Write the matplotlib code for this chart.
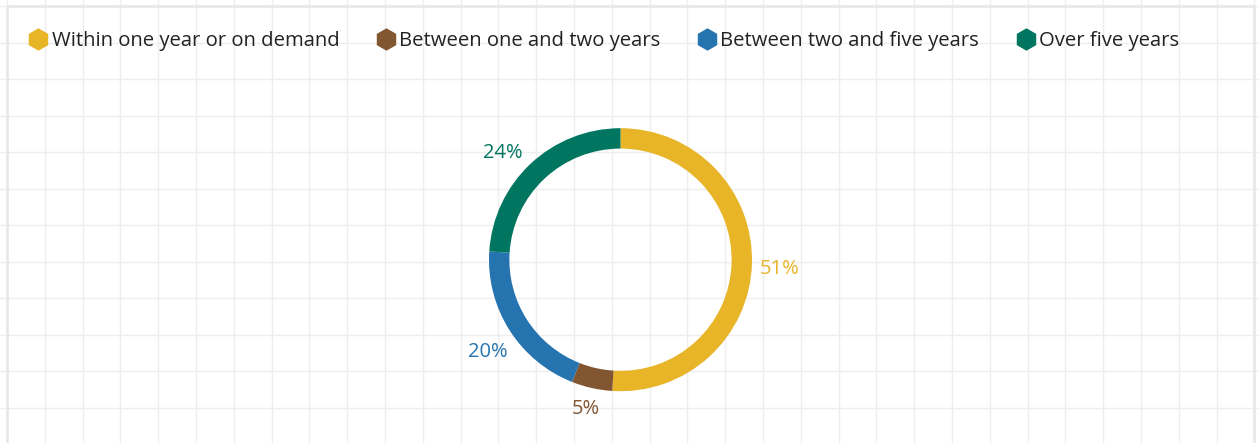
import numpy as np
import matplotlib.pyplot as plt
from matplotlib.lines import Line2D

categories = ["Within one year or on demand", "Between one and two years",
              "Between two and five years", "Over five years"]
shares = [51, 5, 20, 24]
pct_labels = ["51%", "5%", "20%", "24%"]
colors = ["#E8B428", "#835632", "#2574B0", "#007560"]

plt.rcParams['font.family'] = ['Open Sans', 'DejaVu Sans']

W, H = 1259, 443
fig = plt.figure(figsize=(W / 100, H / 100), dpi=100)

# background grid, pixel coordinates
bg = fig.add_axes([0, 0, 1, 1])
bg.set_xlim(0, W)
bg.set_ylim(H, 0)
gx = np.arange(7, 1256, 37.8)
gy = np.arange(6, 445, 36.5)
for x in gx:
    bg.axvline(x, color="#eeeeee", lw=1.0, zorder=0)
for y in gy:
    bg.axhline(y, color="#eeeeee", lw=1.0, zorder=0)
bg.plot([7, 7, 1254, 1254], [H, 6, 6, H], color="#e8e8e8", lw=2.0, zorder=0)
bg.axis("off")

# donut
cx, cy, r = 620.5, 259.7, 131.5
pax = fig.add_axes([(cx - r) / W, 1 - (cy + r) / H, 2 * r / W, 2 * r / H])
wedges, _ = pax.pie(shares, colors=colors, startangle=90, counterclock=False,
                    radius=1, wedgeprops=dict(width=0.155, linewidth=0))
pax.set_xlim(-1, 1)
pax.set_ylim(-1, 1)
pax.set_aspect("equal")
dist = [1.21, 1.15, 1.22, 1.22]
shift = [-1.0, -0.5, 1.8, 4.0]
for w, lab, c, d, s in zip(wedges, pct_labels, colors, dist, shift):
    ang = np.deg2rad((w.theta1 + w.theta2) / 2 + s)
    pax.text(d * np.cos(ang), d * np.sin(ang) - 0.015, lab, color=c,
             fontsize=14.5, ha="center", va="center", clip_on=False)

handles = [Line2D([], [], marker="h", color=c, linestyle="none", markersize=15)
           for c in colors]
fig.legend(handles, categories, loc="upper left", bbox_to_anchor=(0.008, 0.972),
           ncol=4, frameon=False, fontsize=14.6, handletextpad=0.15,
           columnspacing=1.8, handlelength=1.0, labelcolor="#222222")

fig.savefig("out.png", dpi=100)
